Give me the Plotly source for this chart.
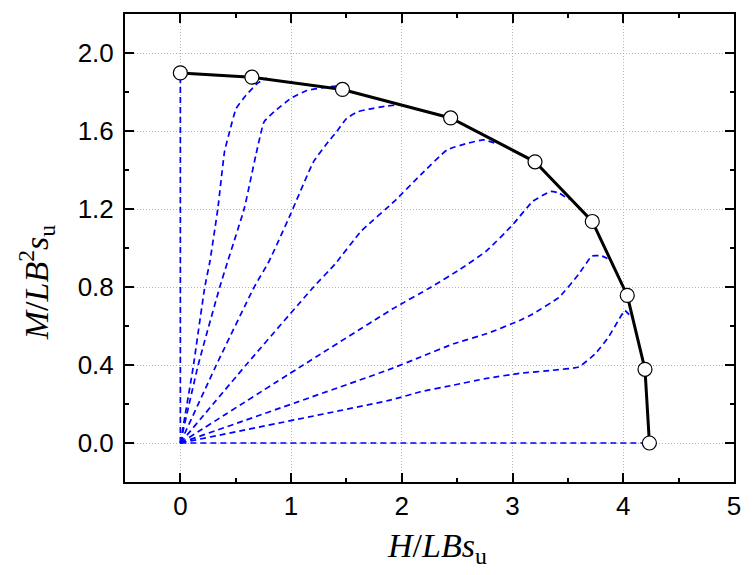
import plotly.graph_objects as go

# Failure envelope (black line with open circles)
env_h = [0.0, 0.646, 1.464, 2.441, 3.203, 3.72, 4.036, 4.196, 4.236]
env_m = [1.898, 1.876, 1.813, 1.667, 1.442, 1.136, 0.757, 0.378, 0.0]

# Load paths (blue dashed)
path1_h = [0.0, 0.0]
path1_m = [0.0, 1.898]
path2_h = [0.0, 0.116, 0.22, 0.267, 0.339, 0.399, 0.444, 0.503, 0.593, 0.696, 0.78]
path2_m = [0.0, 0.39, 0.798, 0.932, 1.205, 1.494, 1.596, 1.715, 1.783, 1.845, 1.872]
path3_h = [0.0, 0.161, 0.356, 0.429, 0.578, 0.682, 0.756, 0.846, 0.994, 1.143, 1.321, 1.41]
path3_m = [0.0, 0.4, 0.8, 0.934, 1.205, 1.477, 1.647, 1.698, 1.766, 1.808, 1.825, 1.83]
path4_h = [0.0, 0.325, 0.667, 0.801, 0.994, 1.203, 1.336, 1.411, 1.5, 1.6, 1.7, 1.85, 1.98]
path4_m = [0.0, 0.4, 0.8, 0.932, 1.172, 1.443, 1.545, 1.596, 1.664, 1.698, 1.712, 1.727, 1.735]
path5_h = [0.0, 0.593, 1.203, 1.396, 1.634, 1.932, 2.17, 2.408, 2.587, 2.736, 2.854]
path5_m = [0.0, 0.4, 0.8, 0.917, 1.087, 1.239, 1.375, 1.503, 1.536, 1.554, 1.536]
path6_h = [0.0, 1.11, 1.918, 2.259, 2.527, 2.765, 3.004, 3.182, 3.346, 3.42, 3.509]
path6_m = [0.0, 0.4, 0.688, 0.798, 0.891, 0.985, 1.121, 1.239, 1.29, 1.282, 1.248]
path7_h = [0.0, 1.872, 2.17, 2.468, 2.765, 3.063, 3.182, 3.42, 3.598, 3.718, 3.807, 3.896]
path7_m = [0.0, 0.374, 0.441, 0.509, 0.56, 0.628, 0.662, 0.747, 0.866, 0.959, 0.959, 0.934]
path8_h = [0.0, 1.902, 2.17, 2.468, 2.765, 3.063, 3.361, 3.598, 3.747, 3.866, 3.955, 4.0, 4.015, 4.075]
path8_m = [0.0, 0.221, 0.263, 0.297, 0.331, 0.357, 0.373, 0.39, 0.458, 0.543, 0.628, 0.67, 0.679, 0.645]
path9_h = [0.0, 4.236]
path9_m = [0.0, 0.0]

paths = [(path1_h, path1_m), (path2_h, path2_m), (path3_h, path3_m),
         (path4_h, path4_m), (path5_h, path5_m), (path6_h, path6_m),
         (path7_h, path7_m), (path8_h, path8_m), (path9_h, path9_m)]

x_ticks = [0, 1, 2, 3, 4, 5]
y_ticks = [0.0, 0.4, 0.8, 1.2, 1.6, 2.0]
y_tick_labels = ["0.0", "0.4", "0.8", "1.2", "1.6", "2.0"]

x_title = "<i>H</i>/<i>LBs</i><sub>u</sub>"
y_title = "<i>M</i>/<i>LB</i><sup>2</sup><i>s</i><sub>u</sub>"

fig = go.Figure()
for ph, pm in paths:
    fig.add_trace(go.Scatter(
        x=ph, y=pm, mode="lines",
        line=dict(color="#0000FF", width=1.7, dash="6px,4px", shape="spline", smoothing=0.4),
        showlegend=False, hoverinfo="skip"))

fig.add_trace(go.Scatter(
    x=env_h, y=env_m, mode="lines+markers",
    line=dict(color="black", width=3),
    marker=dict(symbol="circle", size=14, color="white", line=dict(color="black", width=1.2)),
    showlegend=False))

axis_common = dict(
    showline=True, linecolor="black", linewidth=2, mirror="ticks",
    ticks="inside", ticklen=9, tickwidth=2, tickcolor="black",
    showgrid=True, gridcolor="#b4b4b4", gridwidth=1, griddash="1px,2px",
    zeroline=False,
    tickfont=dict(family="Liberation Sans, Arial", size=26, color="black"),
)

title_font = dict(family="Liberation Serif, Times New Roman", size=34, color="black")

fig.update_layout(
    width=753, height=575,
    margin=dict(l=125, r=13, t=12, b=93),
    plot_bgcolor="white", paper_bgcolor="white",
    xaxis=dict(range=[-0.5, 5], tickvals=x_ticks, ticktext=[str(v) for v in x_ticks],
               minor=dict(dtick=0.5, ticks="inside", ticklen=4, tickwidth=2, tickcolor="black", showgrid=False),
               **axis_common),
    yaxis=dict(range=[-0.2, 2.2], tickvals=y_ticks, ticktext=y_tick_labels,
               ticklabelstandoff=4,
               minor=dict(dtick=0.2, ticks="inside", ticklen=4, tickwidth=2, tickcolor="black", showgrid=False),
               **axis_common),
    annotations=[
        dict(text=x_title, font=title_font, xref="paper", yref="paper",
             x=0.512, y=-0.14, xanchor="center", yanchor="middle", showarrow=False),
        dict(text=y_title, font=title_font, xref="paper", yref="paper", textangle=-90,
             x=-0.146, y=0.427, xanchor="center", yanchor="middle", showarrow=False),
    ],
)

fig.write_html("out.html", config={"displayModeBar": False},
               post_script="document.body.style.margin='0px';")
